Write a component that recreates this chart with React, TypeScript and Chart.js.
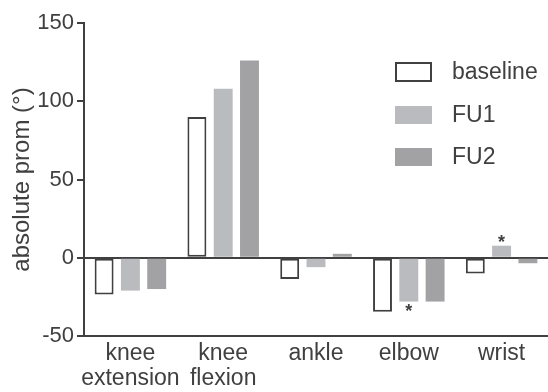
import React, { useEffect, useRef } from "react";
import { Chart, registerables } from "chart.js";
Chart.register(...registerables);

const categories = [["knee", "extension"], ["knee", "flexion"], "ankle", "elbow", "wrist"];
const seriesNames = ["baseline", "FU1", "FU2"];
const baseline = [-23.5, 90, -13.5, -34.5, -10];
const fu1 = [-21, 108, -6, -28, 7.7];
const fu2 = [-20, 126, 2.5, -28, -3.5];
const yTicks = [150, 100, 50, 0, -50];
const asterisks = [
  { dataset: 1, index: 3, pos: "below" },
  { dataset: 1, index: 4, pos: "above" },
];

const INK = "#404040";
const FONT = "'Liberation Sans', Arial, sans-serif";
const fills = ["#ffffff", "#b9bbbf", "#a2a2a4"];

const legendPlugin = {
  id: "inLegend",
  afterDraw(chart: any) {
    const ctx = chart.ctx;
    ctx.save();
    const x = 396;
    const rows = [72, 115, 157];
    ctx.font = `23px ${FONT}`;
    ctx.textBaseline = "middle";
    ctx.textAlign = "left";
    seriesNames.forEach((name, i) => {
      const cy = rows[i];
      if (i === 0) {
        ctx.fillStyle = "#fff";
        ctx.fillRect(x, cy - 9, 35, 18);
        ctx.strokeStyle = INK;
        ctx.lineWidth = 2;
        ctx.strokeRect(x, cy - 9, 35, 18);
      } else {
        ctx.fillStyle = fills[i];
        ctx.fillRect(x - 1, cy - 9, 37, 18);
      }
      ctx.fillStyle = INK;
      ctx.fillText(name, 452, cy + 1);
    });
    ctx.restore();
  },
};

const asteriskPlugin = {
  id: "asterisks",
  afterDatasetsDraw(chart: any) {
    const ctx = chart.ctx;
    ctx.save();
    ctx.font = `bold 18px ${FONT}`;
    ctx.fillStyle = INK;
    ctx.textAlign = "center";
    ctx.textBaseline = "alphabetic";
    asterisks.forEach((a) => {
      const el = chart.getDatasetMeta(a.dataset).data[a.index] as any;
      const top = Math.min(el.y, el.base);
      const bottom = Math.max(el.y, el.base);
      const y = a.pos === "above" ? top + 2 : bottom + 15;
      ctx.fillText("*", el.x, y);
    });
    ctx.restore();
  },
};

export default function App() {
  const ref = useRef<HTMLCanvasElement>(null);
  useEffect(() => {
    document.body.style.margin = "0";
    const chart = new Chart(ref.current!, {
      type: "bar",
      data: {
        labels: categories as any,
        datasets: [
          {
            label: seriesNames[0],
            data: baseline,
            backgroundColor: fills[0],
            borderColor: INK,
            borderWidth: 2,
            borderSkipped: false,
          },
          { label: seriesNames[1], data: fu1, backgroundColor: fills[1], borderWidth: 0 },
          { label: seriesNames[2], data: fu2, backgroundColor: fills[2], borderWidth: 0 },
        ],
      },
      options: {
        animation: false,
        responsive: false,
        maintainAspectRatio: false,
        layout: { padding: { top: 23, right: 0, left: 8, bottom: 0 } },
        datasets: { bar: { categoryPercentage: 0.85, barPercentage: 0.72 } },
        plugins: { legend: { display: false }, tooltip: { enabled: false } },
        scales: {
          x: {
            grid: { display: false, drawTicks: false },
            border: { display: true, color: INK, width: 2 },
            ticks: {
              color: INK,
              font: { family: FONT, size: 23, lineHeight: 1.08 },
              padding: 5,
              maxRotation: 0,
              autoSkip: false,
            },
            afterFit(scale: any) {
              scale.height = 56;
            },
          },
          y: {
            min: -50,
            max: 150,
            afterBuildTicks(scale: any) {
              scale.ticks = yTicks.map((v) => ({ value: v }));
            },
            grid: {
              drawOnChartArea: true,
              color: (c: any) => (c.tick && c.tick.value === 0 ? INK : "rgba(0,0,0,0)"),
              lineWidth: 2,
              tickColor: INK,
              tickLength: 7,
            },
            border: { display: true, color: INK, width: 2 },
            ticks: {
              color: INK,
              font: { family: FONT, size: 22 },
              padding: 3,
            },
            title: {
              display: true,
              text: "absolute prom (°)",
              color: INK,
              font: { family: FONT, size: 24 },
              padding: { top: 0, bottom: 0 },
            },
            afterFit(scale: any) {
              scale.width = 76;
            },
          },
        },
      },
      plugins: [legendPlugin, asteriskPlugin],
    });
    return () => chart.destroy();
  }, []);
  return (
    <div style={{ width: 548, height: 392, background: "#fff" }}>
      <canvas ref={ref} width={548} height={392} style={{ display: "block" }} />
    </div>
  );
}
